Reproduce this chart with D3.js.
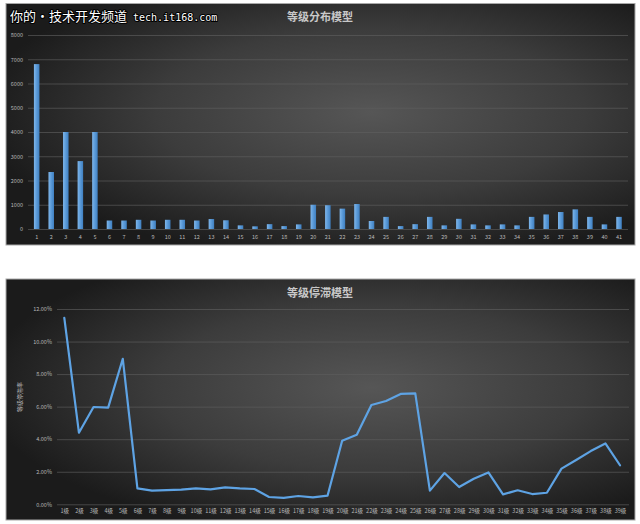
<!DOCTYPE html>
<html><head><meta charset="utf-8">
<script src="https://cdn.jsdelivr.net/npm/d3@7/dist/d3.min.js"></script>
<style>
html,body{margin:0;padding:0;background:#fff;}
svg{display:block;}
text{font-family:"Noto Sans CJK SC","Noto Sans",sans-serif;}
</style></head>
<body>
<svg id="chart" width="640" height="524"></svg>
<script>
// ---- data ----
const barTitle = "等级分布模型";
const barCategories = ["1","2","3","4","5","6","7","8","9","10","11","12","13","14","15","16","17","18","19","20","21","22","23","24","25","26","27","28","29","30","31","32","33","34","35","36","37","38","39","40","41"];
const barValues = [6800,2350,4000,2800,4000,350,350,380,350,380,380,350,410,360,150,110,200,120,190,1000,980,840,1030,330,500,120,200,500,150,420,190,150,190,150,500,600,700,810,500,190,500];
const barTicks = [0,1000,2000,3000,4000,5000,6000,7000,8000];

const lineTitle = "等级停滞模型";
const lineAxisTitle = "等级停滞率";
const lineCategories = ["1级","2级","3级","4级","5级","6级","7级","8级","9级","10级","11级","12级","13级","14级","15级","16级","17级","18级","19级","20级","21级","22级","23级","24级","25级","26级","27级","28级","29级","30级","31级","32级","33级","34级","35级","36级","37级","38级","39级"];
const lineValues = [11.46,4.40,5.98,5.94,8.94,0.98,0.84,0.87,0.90,0.98,0.92,1.04,0.98,0.94,0.45,0.39,0.51,0.43,0.53,3.91,4.28,6.10,6.35,6.78,6.82,0.84,1.92,1.06,1.57,1.96,0.61,0.86,0.63,0.71,2.19,2.72,3.27,3.74,2.40];
const lineTicks = [0,2,4,6,8,10,12];

const watermarkCn = "你的•技术开发频道";
const watermarkEn = "tech.it168.com";

// ---- drawing ----
const svg = d3.select("#chart");
const defs = svg.append("defs");

function panelGrad(id){
  const g = defs.append("radialGradient").attr("id", id)
    .attr("cx","0.58").attr("cy","0.45").attr("r","0.62");
  g.append("stop").attr("offset","0").attr("stop-color","#565656");
  g.append("stop").attr("offset","0.55").attr("stop-color","#3c3c3c");
  g.append("stop").attr("offset","1").attr("stop-color","#1b1b1b");
}
panelGrad("bg1"); panelGrad("bg2");

const barGrad = defs.append("linearGradient").attr("id","barg").attr("x1","0").attr("x2","1").attr("y1","0").attr("y2","0");
barGrad.append("stop").attr("offset","0").attr("stop-color","#7fb6ea");
barGrad.append("stop").attr("offset","0.5").attr("stop-color","#5a9ad8");
barGrad.append("stop").attr("offset","1").attr("stop-color","#3f7fc0");

// panels
svg.append("rect").attr("x",6).attr("y",3.5).attr("width",629).attr("height",241.5)
  .attr("fill","url(#bg1)").attr("stroke","#a8a8a8").attr("stroke-width",1);
svg.append("rect").attr("x",6).attr("y",279).attr("width",629).attr("height",241)
  .attr("fill","url(#bg2)").attr("stroke","#a8a8a8").attr("stroke-width",1);

// ===== Top bar chart =====
const x1 = d3.scaleBand().domain(barCategories).range([29.4, 626.3]).paddingInner(0.62).paddingOuter(0.31);
const y1 = d3.scaleLinear().domain([0,8000]).range([229,35]);

const g1 = svg.append("g");
const yAx1 = g1.append("g").attr("transform","translate(28,0)")
  .call(d3.axisLeft(y1).tickValues(barTicks).tickSize(-600).tickPadding(5).tickFormat(d3.format("d")));
yAx1.select(".domain").remove();
yAx1.selectAll(".tick line").attr("stroke","#5e5e5e").attr("stroke-width",0.8).attr("opacity",0.8);
yAx1.selectAll("text").attr("fill","#b8b8b8").attr("font-size",5.5).attr("font-family","Liberation Sans, sans-serif");

g1.selectAll("rect.bar").data(barValues).enter().append("rect").attr("class","bar")
  .attr("x",(d,i)=>x1(barCategories[i]))
  .attr("width",x1.bandwidth())
  .attr("y",d=>y1(d))
  .attr("height",d=>y1(0)-y1(d))
  .attr("fill","url(#barg)");

const xAx1 = g1.append("g").attr("transform","translate(0,229)")
  .call(d3.axisBottom(x1).tickSize(0).tickPadding(6));
xAx1.select(".domain").remove();
xAx1.selectAll("text").attr("fill","#b8b8b8").attr("font-size",5.5).attr("font-family","Liberation Sans, sans-serif");

svg.append("text").attr("x",320).attr("y",21).attr("text-anchor","middle")
  .attr("fill","#c8c8c8").attr("font-size",11).attr("font-weight","bold").text(barTitle);

// ===== Bottom line chart =====
const x2 = d3.scalePoint().domain(lineCategories).range([64.3, 620]);
const y2 = d3.scaleLinear().domain([0,12]).range([504.3,309]);

const g2 = svg.append("g");
const yAx2 = g2.append("g").attr("transform","translate(57,0)")
  .call(d3.axisLeft(y2).tickValues(lineTicks).tickSize(-572).tickPadding(5).tickFormat(d=>d.toFixed(2)+"%"));
yAx2.select(".domain").remove();
yAx2.selectAll(".tick line").attr("stroke","#5e5e5e").attr("stroke-width",0.8).attr("opacity",0.8);
yAx2.selectAll("text").attr("fill","#b8b8b8").attr("font-size",5.5).attr("font-family","Liberation Sans, sans-serif");

const xAx2 = g2.append("g").attr("transform","translate(0,504.3)")
  .call(d3.axisBottom(x2).tickSize(0).tickPadding(5));
xAx2.select(".domain").remove();
xAx2.selectAll("text").attr("fill","#b8b8b8").attr("font-size",5.5);

g2.append("path").datum(lineValues)
  .attr("d", d3.line().x((d,i)=>x2(lineCategories[i])).y(d=>y2(d)))
  .attr("fill","none").attr("stroke","#5ea3e4").attr("stroke-width",2.2)
  .attr("stroke-linejoin","round").attr("stroke-linecap","round");

svg.append("text").attr("transform","translate(22,397) rotate(-90)").attr("text-anchor","middle")
  .attr("fill","#b8b8b8").attr("font-size",6).text(lineAxisTitle);

svg.append("text").attr("x",320).attr("y",297).attr("text-anchor","middle")
  .attr("fill","#c8c8c8").attr("font-size",11).attr("font-weight","bold").text(lineTitle);

// ===== watermark =====
const wm = svg.append("text").attr("x",10).attr("y",21)
  .attr("fill","#ffffff").attr("stroke","#000").attr("stroke-width",2).attr("paint-order","stroke")
  .attr("stroke-linejoin","round");
wm.append("tspan").attr("font-size",13).attr("font-family","Noto Sans CJK SC").text(watermarkCn);
wm.append("tspan").attr("dx",6).attr("font-size",10).attr("font-family","DejaVu Sans Mono, monospace").text(watermarkEn);
</script>
</body></html>
